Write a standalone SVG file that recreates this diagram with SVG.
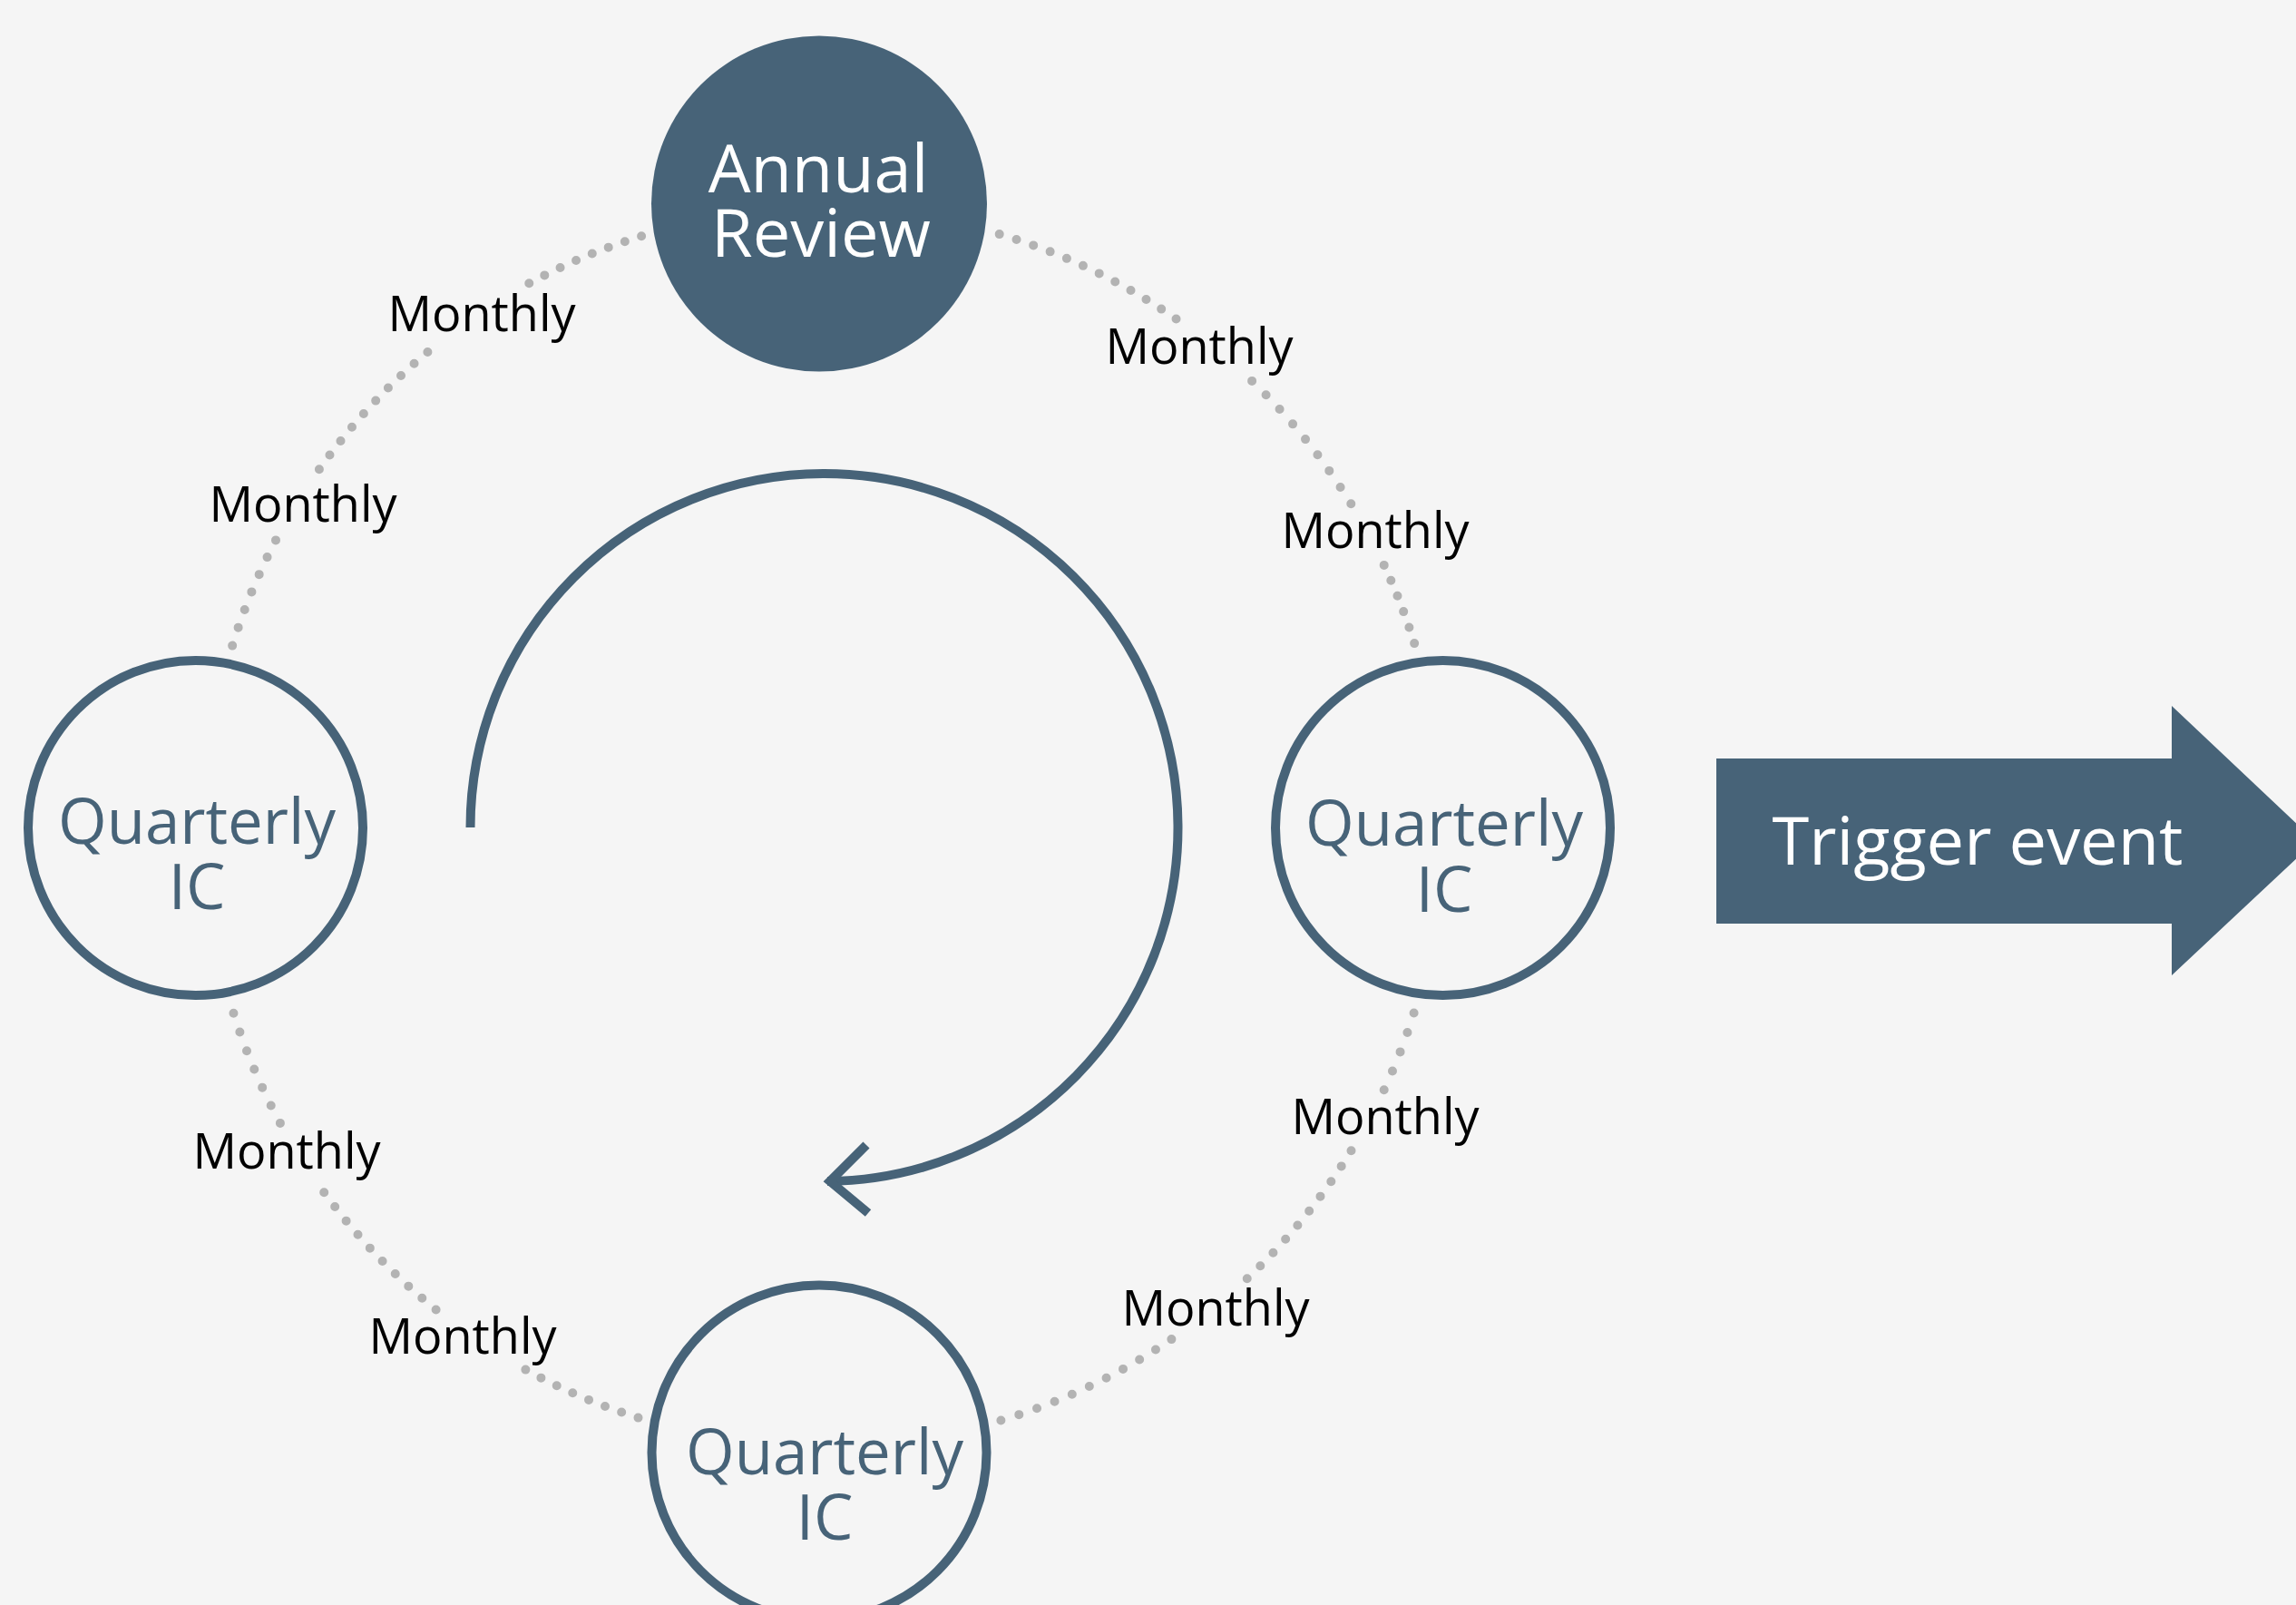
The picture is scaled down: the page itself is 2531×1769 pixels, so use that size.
<svg xmlns="http://www.w3.org/2000/svg" width="2531" height="1769" viewBox="0 0 2531 1769">
  <style>
    .dots { fill: none; stroke: #b3b3b3; stroke-width: 10; stroke-linecap: round; stroke-dasharray: 0 1; }
    .lbl { font-family: "Open Sans", "Noto Sans", "Liberation Sans", sans-serif; font-size: 54px; fill: #000000; text-anchor: middle; }
    .ring { fill: #f5f5f5; stroke: #476378; stroke-width: 10; }
    .qtext { font-family: "Open Sans", "Noto Sans", "Liberation Sans", sans-serif; font-size: 69px; fill: #476378; text-anchor: middle; }
    .wtext { font-family: "Open Sans", "Noto Sans", "Liberation Sans", sans-serif; fill: #ffffff; text-anchor: middle; }
    .cycle { fill: none; stroke: #476378; stroke-width: 10; }
  </style>
  <rect x="0" y="0" width="2531" height="1769" fill="#f5f5f5"/>

  <g id="connectors">
    <!-- top-left quarter -->
    <path class="dots" pathLength="7.01" d="M 707.1 260.3 A 682 682 0 0 0 583.1 312.4"/>
    <path class="dots" pathLength="9.01" d="M 471.4 388.0 A 682 682 0 0 0 351.8 517.4"/>
    <path class="dots" pathLength="6.01" d="M 304.0 595.4 A 682 682 0 0 0 256.1 711.8"/>
    <!-- top-right quarter -->
    <path class="dots" pathLength="11.01" d="M 1101.7 258.1 A 682 682 0 0 1 1296.7 351.7"/>
    <path class="dots" pathLength="8.01" d="M 1380.1 419.9 A 682 682 0 0 1 1489.4 555.5"/>
    <path class="dots" pathLength="5.01" d="M 1525.7 622.9 A 682 682 0 0 1 1559.2 709.3"/>
    <!-- bottom-right quarter -->
    <path class="dots" pathLength="4.01" d="M 1558.6 1116.5 A 682 682 0 0 1 1525.6 1201.4"/>
    <path class="dots" pathLength="9.01" d="M 1489.5 1268.3 A 682 682 0 0 1 1374.6 1409.4"/>
    <path class="dots" pathLength="10.01" d="M 1291.4 1476.1 A 682 682 0 0 1 1103.2 1565.5"/>
    <!-- bottom-left quarter -->
    <path class="dots" pathLength="7.01" d="M 703.5 1562.6 A 682 682 0 0 1 579.2 1509.5"/>
    <path class="dots" pathLength="9.01" d="M 480.6 1443.5 A 682 682 0 0 1 357.1 1314.0"/>
    <path class="dots" pathLength="6.01" d="M 308.9 1237.9 A 682 682 0 0 1 257.4 1116.5"/>

    <text class="lbl" x="531" y="365">Monthly</text>
    <text class="lbl" x="334" y="575">Monthly</text>
    <text class="lbl" x="1322" y="401">Monthly</text>
    <text class="lbl" x="1516" y="604">Monthly</text>
    <text class="lbl" x="316" y="1288">Monthly</text>
    <text class="lbl" x="510" y="1492">Monthly</text>
    <text class="lbl" x="1527" y="1250">Monthly</text>
    <text class="lbl" x="1340" y="1461">Monthly</text>

    <!-- cycle arrow -->
    <path class="cycle" d="M 518.5 912 A 390 390 0 1 1 912 1302"/>
    <polyline class="cycle" points="955,1262 915,1302 957,1337" stroke-linejoin="miter" stroke-miterlimit="10"/>
  </g>

  <g id="annual-review">
    <circle cx="903" cy="224.5" r="185" fill="#476378"/>
    <text class="wtext" font-size="74" x="902" y="212">Annual</text>
    <text class="wtext" font-size="74" x="905" y="283">Review</text>
  </g>

  <g id="quarterly-left">
    <circle class="ring" cx="215.5" cy="912.5" r="184.5"/>
    <text class="qtext" x="217" y="930">Quarterly</text>
    <text class="qtext" x="217" y="1002">IC</text>
  </g>

  <g id="quarterly-right">
    <circle class="ring" cx="1590.5" cy="912.5" r="184.5"/>
    <text class="qtext" x="1592" y="932">Quarterly</text>
    <text class="qtext" x="1592" y="1005">IC</text>
  </g>

  <g id="quarterly-bottom">
    <circle class="ring" cx="903" cy="1601" r="184.5"/>
    <text class="qtext" x="909" y="1625">Quarterly</text>
    <text class="qtext" x="909" y="1697">IC</text>
  </g>

  <g id="trigger-event">
    <polygon points="1892,836 2394,836 2394,778 2552,927 2394,1075 2394,1018 1892,1018" fill="#476378"/>
    <text class="wtext" font-size="74" x="2180" y="953">Trigger event</text>
  </g>
</svg>
